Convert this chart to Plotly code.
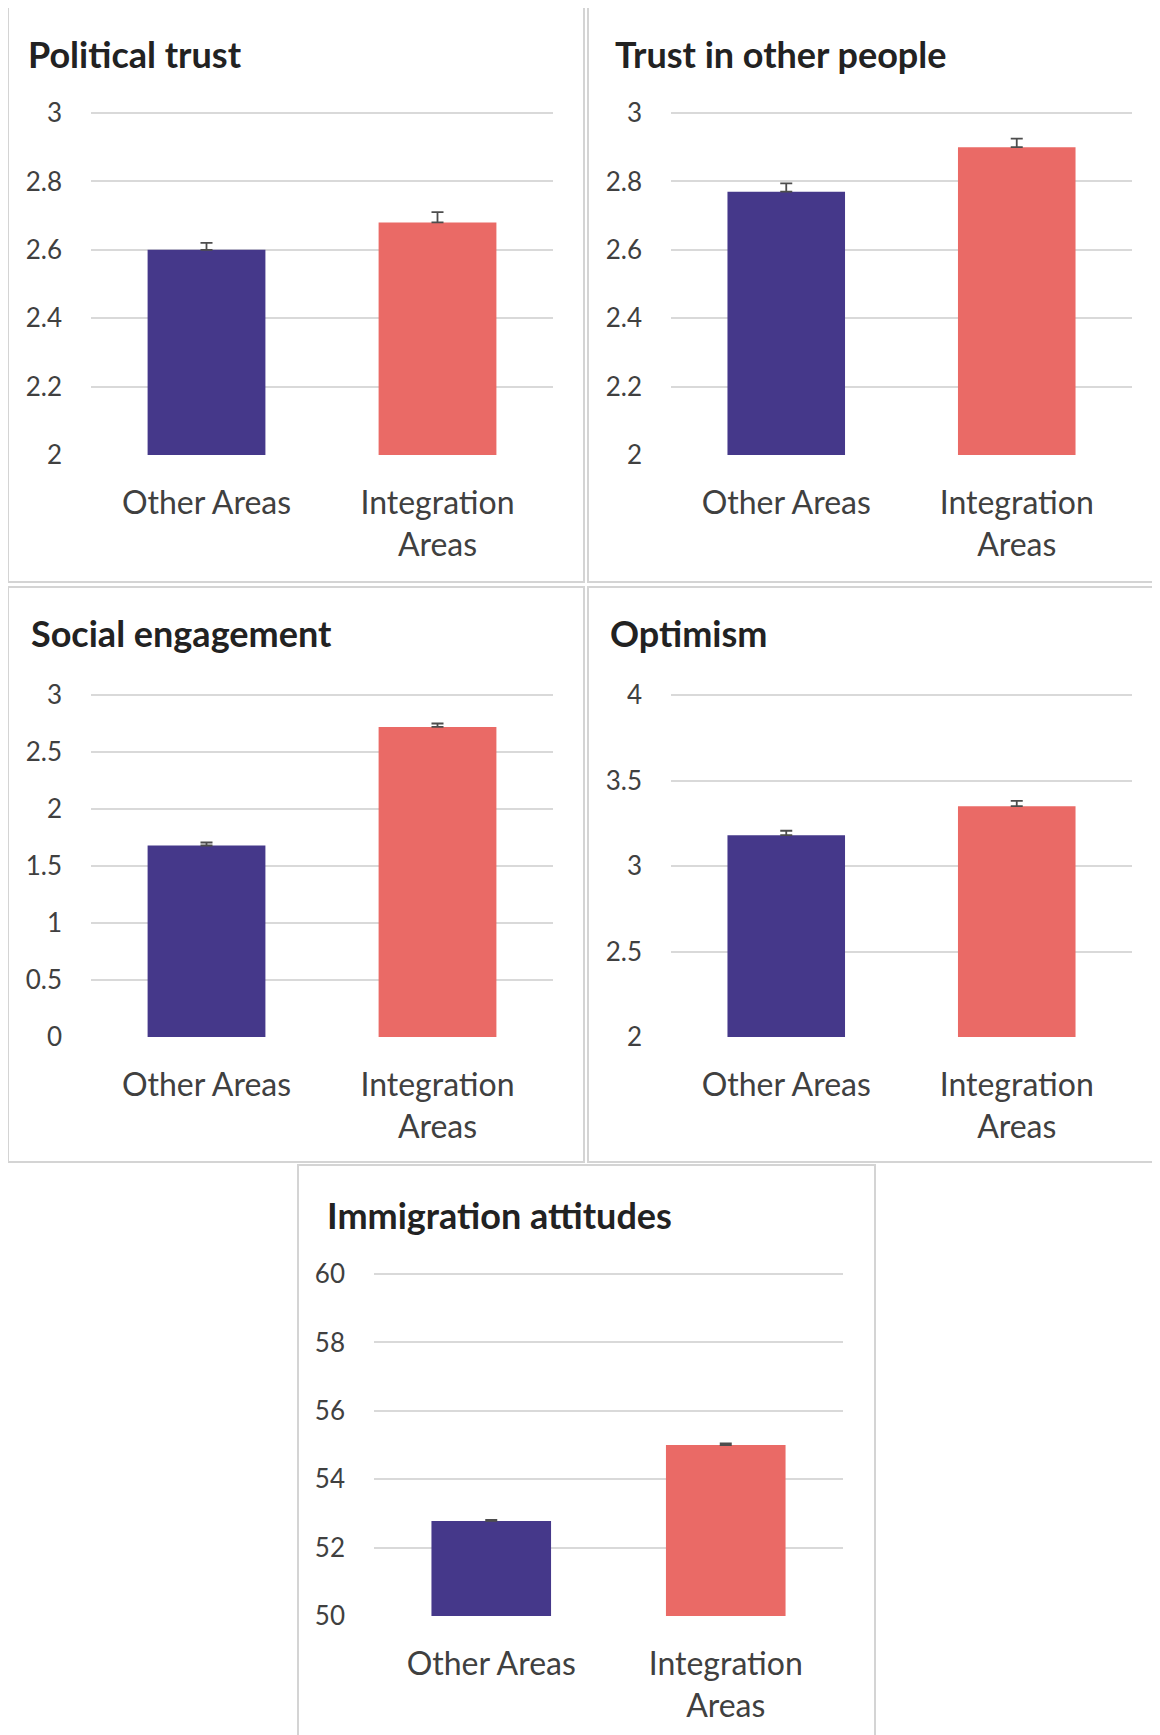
import plotly.graph_objects as go

# The page body has an 8px margin, so the figure is sized to fit inside it
OFF = 8
W, H = 1160 - OFF, 1735 - OFF

categories = ["Other Areas", "Integration<br>Areas"]

titles = ["Political trust", "Trust in other people", "Social engagement",
          "Optimism", "Immigration attitudes"]

political_trust = [2.60, 2.68]
political_trust_err = [0.02, 0.03]
trust_people = [2.77, 2.90]
trust_people_err = [0.024, 0.025]
social_engagement = [1.68, 2.72]
social_engagement_err = [0.026, 0.03]
optimism = [3.18, 3.35]
optimism_err = [0.026, 0.031]
immigration = [52.78, 55.00]
immigration_err = [0.03, 0.045]

ranges = [[2, 3], [2, 3], [0, 3], [2, 4], [50, 60]]
tickvals_list = [
    [2, 2.2, 2.4, 2.6, 2.8, 3],
    [2, 2.2, 2.4, 2.6, 2.8, 3],
    [0, 0.5, 1, 1.5, 2, 2.5, 3],
    [2, 2.5, 3, 3.5, 4],
    [50, 52, 54, 56, 58, 60],
]
ticktext_list = [
    ["2", "2.2", "2.4", "2.6", "2.8", "3"],
    ["2", "2.2", "2.4", "2.6", "2.8", "3"],
    ["0", "0.5", "1", "1.5", "2", "2.5", "3"],
    ["2", "2.5", "3", "3.5", "4"],
    ["50", "52", "54", "56", "58", "60"],
]

values = [political_trust, trust_people, social_engagement, optimism, immigration]
errors = [political_trust_err, trust_people_err, social_engagement_err, optimism_err, immigration_err]

bar_colors = ["#45388A", "#EA6A66"]
GRID = "#D9D9D9"
TXT = "#404040"
FONT = "Lato"

# layout geometry in screen pixels (x0, x1, ytop, ybottom)
plot_px = [
    (91, 553, 113, 455),
    (671, 1132, 113, 455),
    (91, 553, 695, 1037),
    (671, 1132, 695, 1037),
    (374, 843, 1274, 1616),
]
title_px = [(26, 54), (613, 54), (29, 633), (608, 633), (325, 1215)]
panel_px = [
    (8, 584, 6, 582),
    (588, 1170, 6, 582),
    (8, 584, 587, 1162),
    (588, 1170, 587, 1162),
    (298, 875, 1165, 1750),
]
EXTRA = 3  # px of headroom so the top gridline is drawn


def px_x(x):
    return (x - OFF) / W


def px_y(y):
    return 1 - (y - OFF) / H


fig = go.Figure()
layout = dict(
    width=W, height=H, autosize=False,
    margin=dict(l=0, r=0, t=0, b=0, autoexpand=False),
    paper_bgcolor="white", plot_bgcolor="white",
    showlegend=False, bargap=0.49,
    font=dict(family=FONT, color=TXT),
)

shapes = []
annotations = []
for i in range(5):
    n = "" if i == 0 else str(i + 1)
    xa, ya = "x" + n, "y" + n
    fig.add_trace(go.Bar(
        x=categories, y=values[i],
        marker=dict(color=bar_colors, line=dict(width=0)),
        error_y=dict(type="data", array=errors[i], arrayminus=[0, 0], symmetric=False,
                     color="#4d4d4d", thickness=1.8, width=6),
        xaxis=xa, yaxis=ya,
    ))
    x0, x1, yt, yb = plot_px[i]
    lo, hi = ranges[i]
    span = hi - lo
    hi_ext = hi + span * EXTRA / (yb - yt)
    layout["xaxis" + n] = dict(
        domain=[px_x(x0), px_x(x1)], anchor=ya,
        showgrid=False, zeroline=False, showline=False, automargin=False,
        ticks="", ticklabelstandoff=26,
        tickfont=dict(family=FONT, size=32, color=TXT),
        fixedrange=True,
    )
    layout["yaxis" + n] = dict(
        domain=[px_y(yb), px_y(yt - EXTRA)], anchor=xa,
        range=[lo, hi_ext], tickvals=tickvals_list[i], ticktext=ticktext_list[i],
        showgrid=True, gridcolor=GRID, gridwidth=1.5, zeroline=False, showline=False,
        automargin=False,
        ticks="", ticklabelstandoff=28,
        tickfont=dict(family=FONT, size=26, color=TXT),
        fixedrange=True,
    )
    px0, px1, pyt, pyb = panel_px[i]
    shapes.append(dict(type="rect", xref="paper", yref="paper",
                       x0=px_x(px0), x1=px_x(px1), y0=px_y(pyb), y1=px_y(pyt),
                       line=dict(color="#D4D4D4", width=2), fillcolor="rgba(0,0,0,0)",
                       layer="below"))
    tx, ty = title_px[i]
    annotations.append(dict(text="<b>" + titles[i] + "</b>", xref="paper", yref="paper",
                            x=px_x(tx), y=px_y(ty), xanchor="left", yanchor="middle",
                            showarrow=False,
                            font=dict(family=FONT, size=36, color="#222222")))

layout["shapes"] = shapes
layout["annotations"] = annotations
fig.update_layout(**layout)
fig.write_html("out.html")
